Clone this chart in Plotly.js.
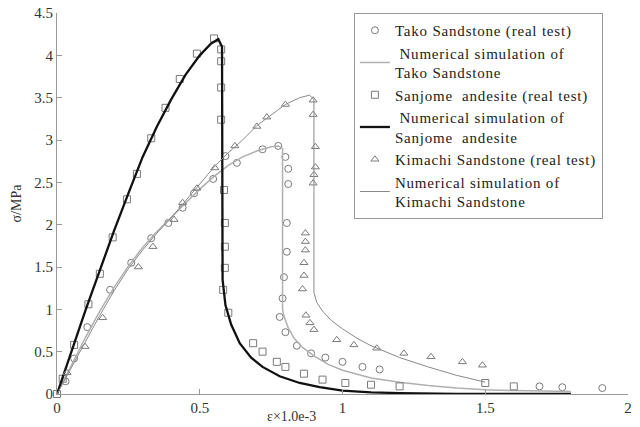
<!DOCTYPE html>
<html>
<head>
<meta charset="utf-8">
<script src="https://cdn.plot.ly/plotly-3.0.1.min.js"></script>
<style>html,body{margin:0;padding:0;background:#fff;}#chart{width:640px;height:427px;} .legendtext{letter-spacing:0.8px;}</style>
</head>
<body>
<div id="chart"></div>
<script>
// Tako Sandstone (real test)
var takoTestX = [0.03,0.06,0.106,0.186,0.26,0.33,0.39,0.44,0.48,0.547,0.59,0.63,0.72,0.775,0.80,0.81,0.81,0.805,0.805,0.795,0.79,0.78,0.80,0.84,0.89,0.94,1.0,1.07,1.13,1.69,1.77,1.91];
var takoTestY = [0.15,0.42,0.79,1.23,1.55,1.84,2.02,2.2,2.37,2.54,2.81,2.73,2.89,2.93,2.80,2.66,2.48,2.02,1.68,1.38,1.13,0.91,0.73,0.57,0.48,0.43,0.38,0.32,0.29,0.09,0.08,0.07];
// Numerical simulation of Tako Sandstone
var takoSimX = [0,0.05,0.1,0.15,0.2,0.25,0.3,0.35,0.4,0.45,0.5,0.55,0.6,0.65,0.7,0.75,0.775,0.79,0.79,0.79,0.795,0.81,0.83,0.86,0.9,0.95,1.0,1.1,1.2,1.3,1.4,1.5,1.6,1.8];
var takoSimY = [0,0.34,0.67,0.98,1.26,1.51,1.73,1.92,2.09,2.26,2.42,2.57,2.7,2.8,2.87,2.92,2.93,2.9,2.0,1.0,0.92,0.78,0.66,0.55,0.45,0.35,0.28,0.19,0.14,0.1,0.07,0.05,0.04,0.03];
// Sanjome andesite (real test)
var sanTestX = [0,0.02,0.06,0.11,0.15,0.195,0.245,0.28,0.33,0.38,0.43,0.49,0.55,0.575,0.575,0.575,0.575,0.585,0.588,0.588,0.588,0.582,0.6,0.687,0.72,0.77,0.8,0.865,0.93,1.01,1.1,1.2,1.5,1.6];
var sanTestY = [0,0.18,0.58,1.06,1.42,1.85,2.3,2.6,3.02,3.38,3.72,4.02,4.2,4.07,3.93,3.62,3.24,2.41,2.02,1.74,1.49,1.23,0.96,0.6,0.5,0.38,0.32,0.24,0.17,0.13,0.11,0.09,0.13,0.09];
// Numerical simulation of Sanjome andesite
var sanSimX = [0,0.05,0.1,0.15,0.2,0.25,0.3,0.35,0.4,0.45,0.5,0.54,0.565,0.578,0.578,0.578,0.58,0.59,0.61,0.64,0.68,0.72,0.78,0.85,0.92,1.0,1.1,1.2,1.4,1.8];
var sanSimY = [0,0.5,0.99,1.46,1.93,2.37,2.8,3.16,3.48,3.77,4.0,4.14,4.19,4.1,3.0,2.0,1.35,1.05,0.82,0.6,0.43,0.32,0.21,0.13,0.08,0.04,0.02,0.01,0,0];
// Kimachi Sandstone (real test)
var kimTestX = [0.035,0.098,0.16,0.285,0.336,0.41,0.44,0.49,0.553,0.623,0.70,0.735,0.80,0.897,0.897,0.905,0.905,0.90,0.897,0.87,0.87,0.87,0.865,0.865,0.86,0.872,0.886,0.90,0.98,1.04,1.12,1.215,1.31,1.42,1.49];
var kimTestY = [0.25,0.56,0.90,1.5,1.74,2.06,2.26,2.43,2.67,2.93,3.16,3.27,3.42,3.47,3.30,2.92,2.68,2.59,2.49,1.90,1.80,1.70,1.55,1.40,1.24,0.93,0.84,0.76,0.64,0.58,0.54,0.48,0.44,0.38,0.34];
// Numerical simulation of Kimachi Sandstone
var kimSimX = [0,0.05,0.1,0.15,0.2,0.25,0.3,0.35,0.4,0.45,0.5,0.55,0.6,0.65,0.7,0.75,0.8,0.85,0.885,0.9,0.9,0.9,0.9,0.91,0.93,0.96,1.0,1.05,1.1,1.2,1.3,1.4,1.5];
var kimSimY = [0,0.31,0.62,0.93,1.22,1.48,1.7,1.9,2.08,2.28,2.47,2.68,2.85,3.0,3.17,3.3,3.42,3.5,3.53,3.48,3.0,2.0,1.2,1.08,0.98,0.87,0.77,0.66,0.57,0.43,0.32,0.22,0.14];

var xTicks = [0,0.5,1,1.5,2];
var xTickText = ['0','0.5','1','1.5','2'];
var yTicks = [0,0.5,1,1.5,2,2.5,3,3.5,4,4.5];
var yTickText = ['0','0.5','1','1.5','2','2.5','3','3.5','4','4.5'];

var names = ['Tako Sandstone (real test)', ' Numerical simulation of<br>Tako Sandstone', 'Sanjome  andesite (real test)', ' Numerical simulation of<br>Sanjome  andesite', 'Kimachi Sandstone (real test)', 'Numerical simulation of<br>Kimachi Sandstone'];

var mk = function(sym){ return {symbol: sym, size: 7, color: '#7a7a7a', line: {color: '#7a7a7a', width: 1}}; };

var traces = [
  {x: takoTestX, y: takoTestY, mode: 'markers', name: names[0], marker: mk('circle-open'), cliponaxis: false},
  {x: takoSimX, y: takoSimY, mode: 'lines', name: names[1], line: {color: '#b0b0b0', width: 1.5}},
  {x: sanTestX, y: sanTestY, mode: 'markers', name: names[2], marker: mk('square-open'), cliponaxis: false},
  {x: sanSimX, y: sanSimY, mode: 'lines', name: names[3], line: {color: '#111111', width: 2.3}},
  {x: kimTestX, y: kimTestY, mode: 'markers', name: names[4], marker: mk('triangle-up-open'), cliponaxis: false},
  {x: kimSimX, y: kimSimY, mode: 'lines', name: names[5], line: {color: '#8a8a8a', width: 1}}
];

var fontFam = '"Liberation Serif", "Times New Roman", serif';
var layout = {
  width: 640, height: 427,
  margin: {l: 57, r: 12, t: 13, b: 33},
  paper_bgcolor: '#fff', plot_bgcolor: '#fff',
  font: {family: fontFam, size: 15, color: '#333'},
  showlegend: true,
  legend: {x: 0.52, y: 1, xanchor: 'left', yanchor: 'top', bgcolor: '#fff', bordercolor: '#999', borderwidth: 1,
           font: {family: fontFam, size: 15, color: '#222'}, tracegroupgap: 0},
  xaxis: {range: [0, 2], tickvals: xTicks, ticktext: xTickText, ticks: 'inside', ticklen: 5, tickcolor: '#999',
          showline: true, linecolor: '#999', linewidth: 1, showgrid: false, zeroline: false, mirror: false},
  yaxis: {range: [0, 4.5], tickvals: yTicks, ticktext: yTickText, ticks: 'inside', ticklen: 5, tickcolor: '#999',
          showline: true, linecolor: '#999', linewidth: 1, showgrid: false, zeroline: false,
          title: {text: 'σ/MPa', font: {family: fontFam, size: 14, color: '#333'}, standoff: 9}},
  annotations: [{text: 'ε×1.0e-3', xref: 'paper', yref: 'paper', x: 0.41, y: 0, yshift: -22, xanchor: 'center', yanchor: 'middle',
                 showarrow: false, font: {family: fontFam, size: 14, color: '#333'}}]
};

Plotly.newPlot('chart', traces, layout, {displayModeBar: false, staticPlot: true});
</script>
</body>
</html>
